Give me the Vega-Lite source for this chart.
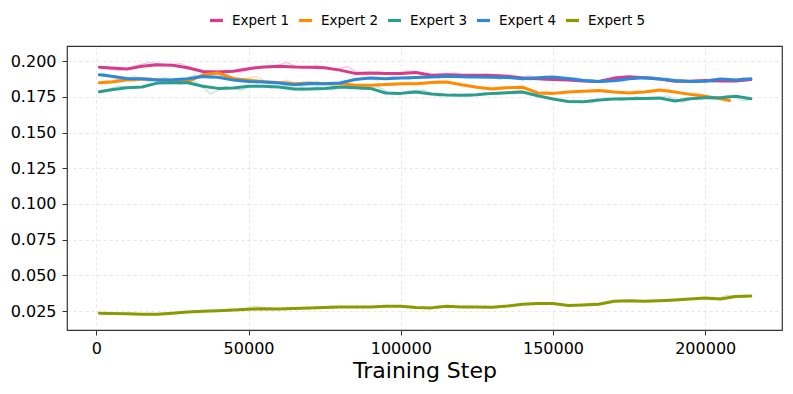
{
  "$schema": "https://vega.github.io/schema/vega-lite/v6.json",
  "autosize": "none",
  "width": 715,
  "height": 284,
  "padding": {"left": 67, "top": 46, "right": 11, "bottom": 64},
  "background": "white",
  "datasets": {
    "smooth": [
      {"step": 1000, "Expert 1": 0.1958, "Expert 2": 0.1849, "Expert 3": 0.1786, "Expert 4": 0.1905, "Expert 5": 0.0234},
      {"step": 5000, "Expert 1": 0.1952, "Expert 2": 0.1855, "Expert 3": 0.180, "Expert 4": 0.1895, "Expert 5": 0.0233},
      {"step": 10000, "Expert 1": 0.1945, "Expert 2": 0.1868, "Expert 3": 0.1815, "Expert 4": 0.188, "Expert 5": 0.0231},
      {"step": 15000, "Expert 1": 0.1965, "Expert 2": 0.1875, "Expert 3": 0.182, "Expert 4": 0.1877, "Expert 5": 0.0228},
      {"step": 20000, "Expert 1": 0.1975, "Expert 2": 0.187, "Expert 3": 0.1847, "Expert 4": 0.1868, "Expert 5": 0.0227},
      {"step": 25000, "Expert 1": 0.1972, "Expert 2": 0.1865, "Expert 3": 0.1849, "Expert 4": 0.187, "Expert 5": 0.0235},
      {"step": 30000, "Expert 1": 0.1955, "Expert 2": 0.1858, "Expert 3": 0.1849, "Expert 4": 0.1878, "Expert 5": 0.0243},
      {"step": 35000, "Expert 1": 0.1928, "Expert 2": 0.1905, "Expert 3": 0.1825, "Expert 4": 0.1893, "Expert 5": 0.0248},
      {"step": 40000, "Expert 1": 0.1925, "Expert 2": 0.1918, "Expert 3": 0.181, "Expert 4": 0.1888, "Expert 5": 0.0252},
      {"step": 45000, "Expert 1": 0.193, "Expert 2": 0.188, "Expert 3": 0.1812, "Expert 4": 0.1868, "Expert 5": 0.0257},
      {"step": 50000, "Expert 1": 0.1948, "Expert 2": 0.1867, "Expert 3": 0.1825, "Expert 4": 0.1858, "Expert 5": 0.0262},
      {"step": 55000, "Expert 1": 0.196, "Expert 2": 0.1856, "Expert 3": 0.1825, "Expert 4": 0.1855, "Expert 5": 0.0266},
      {"step": 60000, "Expert 1": 0.1965, "Expert 2": 0.1852, "Expert 3": 0.182, "Expert 4": 0.1848, "Expert 5": 0.0265},
      {"step": 65000, "Expert 1": 0.196, "Expert 2": 0.1843, "Expert 3": 0.1805, "Expert 4": 0.1835, "Expert 5": 0.0268},
      {"step": 70000, "Expert 1": 0.1958, "Expert 2": 0.1848, "Expert 3": 0.1805, "Expert 4": 0.1845, "Expert 5": 0.0272},
      {"step": 75000, "Expert 1": 0.1955, "Expert 2": 0.1842, "Expert 3": 0.181, "Expert 4": 0.1842, "Expert 5": 0.0275},
      {"step": 80000, "Expert 1": 0.1938, "Expert 2": 0.1842, "Expert 3": 0.182, "Expert 4": 0.1848, "Expert 5": 0.0279},
      {"step": 85000, "Expert 1": 0.1915, "Expert 2": 0.1832, "Expert 3": 0.1815, "Expert 4": 0.1872, "Expert 5": 0.0278},
      {"step": 90000, "Expert 1": 0.1918, "Expert 2": 0.1832, "Expert 3": 0.181, "Expert 4": 0.1882, "Expert 5": 0.0278},
      {"step": 95000, "Expert 1": 0.1915, "Expert 2": 0.1838, "Expert 3": 0.1778, "Expert 4": 0.1878, "Expert 5": 0.0283},
      {"step": 100000, "Expert 1": 0.1915, "Expert 2": 0.1843, "Expert 3": 0.1775, "Expert 4": 0.1882, "Expert 5": 0.0284},
      {"step": 105000, "Expert 1": 0.1922, "Expert 2": 0.1843, "Expert 3": 0.1785, "Expert 4": 0.1886, "Expert 5": 0.0275},
      {"step": 110000, "Expert 1": 0.1902, "Expert 2": 0.1852, "Expert 3": 0.177, "Expert 4": 0.189, "Expert 5": 0.0272},
      {"step": 115000, "Expert 1": 0.1905, "Expert 2": 0.1855, "Expert 3": 0.1763, "Expert 4": 0.1895, "Expert 5": 0.0283},
      {"step": 120000, "Expert 1": 0.1902, "Expert 2": 0.1835, "Expert 3": 0.1762, "Expert 4": 0.1892, "Expert 5": 0.0279},
      {"step": 125000, "Expert 1": 0.1902, "Expert 2": 0.1818, "Expert 3": 0.1765, "Expert 4": 0.189, "Expert 5": 0.0278},
      {"step": 130000, "Expert 1": 0.190, "Expert 2": 0.1805, "Expert 3": 0.1775, "Expert 4": 0.1888, "Expert 5": 0.0276},
      {"step": 135000, "Expert 1": 0.1895, "Expert 2": 0.1815, "Expert 3": 0.178, "Expert 4": 0.1886, "Expert 5": 0.0285},
      {"step": 140000, "Expert 1": 0.1883, "Expert 2": 0.1818, "Expert 3": 0.1785, "Expert 4": 0.1878, "Expert 5": 0.0298},
      {"step": 145000, "Expert 1": 0.1878, "Expert 2": 0.1778, "Expert 3": 0.1758, "Expert 4": 0.1885, "Expert 5": 0.0303},
      {"step": 150000, "Expert 1": 0.1872, "Expert 2": 0.1775, "Expert 3": 0.1735, "Expert 4": 0.189, "Expert 5": 0.0302},
      {"step": 155000, "Expert 1": 0.1868, "Expert 2": 0.1785, "Expert 3": 0.1718, "Expert 4": 0.188, "Expert 5": 0.0288},
      {"step": 160000, "Expert 1": 0.1862, "Expert 2": 0.179, "Expert 3": 0.1716, "Expert 4": 0.1866, "Expert 5": 0.0293},
      {"step": 165000, "Expert 1": 0.1858, "Expert 2": 0.1795, "Expert 3": 0.1728, "Expert 4": 0.1858, "Expert 5": 0.0298},
      {"step": 170000, "Expert 1": 0.1882, "Expert 2": 0.1785, "Expert 3": 0.1735, "Expert 4": 0.1863, "Expert 5": 0.0318},
      {"step": 175000, "Expert 1": 0.1892, "Expert 2": 0.1778, "Expert 3": 0.1738, "Expert 4": 0.1878, "Expert 5": 0.0322},
      {"step": 180000, "Expert 1": 0.1885, "Expert 2": 0.1785, "Expert 3": 0.174, "Expert 4": 0.1885, "Expert 5": 0.0318},
      {"step": 185000, "Expert 1": 0.1875, "Expert 2": 0.1798, "Expert 3": 0.1742, "Expert 4": 0.1875, "Expert 5": 0.0322},
      {"step": 190000, "Expert 1": 0.186, "Expert 2": 0.1785, "Expert 3": 0.1722, "Expert 4": 0.1865, "Expert 5": 0.0328},
      {"step": 195000, "Expert 1": 0.186, "Expert 2": 0.1768, "Expert 3": 0.1738, "Expert 4": 0.1858, "Expert 5": 0.0334},
      {"step": 200000, "Expert 1": 0.1865, "Expert 2": 0.1755, "Expert 3": 0.1744, "Expert 4": 0.186, "Expert 5": 0.0341},
      {"step": 205000, "Expert 1": 0.1862, "Expert 2": 0.1738, "Expert 3": 0.1744, "Expert 4": 0.1875, "Expert 5": 0.0334},
      {"step": 208000, "Expert 2": 0.1725},
      {"step": 210000, "Expert 1": 0.1862, "Expert 3": 0.1755, "Expert 4": 0.1868, "Expert 5": 0.0352},
      {"step": 215000, "Expert 1": 0.1872, "Expert 3": 0.1738, "Expert 4": 0.1877, "Expert 5": 0.0355}
    ],
    "raw": [
      {"step": 1000, "Expert 1": 0.1958, "Expert 2": 0.1849, "Expert 3": 0.1786, "Expert 4": 0.1905, "Expert 5": 0.0234},
      {"step": 2500, "Expert 1": 0.1948, "Expert 2": 0.1862, "Expert 3": 0.1795, "Expert 4": 0.1915, "Expert 5": 0.0236},
      {"step": 7500, "Expert 1": 0.1935, "Expert 2": 0.1875, "Expert 3": 0.1828, "Expert 4": 0.1872, "Expert 5": 0.0229},
      {"step": 12500, "Expert 1": 0.1968, "Expert 2": 0.1858, "Expert 3": 0.1808, "Expert 4": 0.1892, "Expert 5": 0.0233},
      {"step": 17500, "Expert 1": 0.1992, "Expert 2": 0.1888, "Expert 3": 0.1838, "Expert 4": 0.1858, "Expert 5": 0.0224},
      {"step": 22500, "Expert 1": 0.1968, "Expert 2": 0.1852, "Expert 3": 0.1862, "Expert 4": 0.1885, "Expert 5": 0.0232},
      {"step": 27500, "Expert 1": 0.1985, "Expert 2": 0.1878, "Expert 3": 0.1838, "Expert 4": 0.1862, "Expert 5": 0.0239},
      {"step": 32500, "Expert 1": 0.1942, "Expert 2": 0.1872, "Expert 3": 0.1858, "Expert 4": 0.1905, "Expert 5": 0.0246},
      {"step": 37500, "Expert 1": 0.1918, "Expert 2": 0.1932, "Expert 3": 0.1772, "Expert 4": 0.1878, "Expert 5": 0.0251},
      {"step": 42500, "Expert 1": 0.1938, "Expert 2": 0.1898, "Expert 3": 0.1822, "Expert 4": 0.1902, "Expert 5": 0.0254},
      {"step": 47500, "Expert 1": 0.1922, "Expert 2": 0.1872, "Expert 3": 0.1798, "Expert 4": 0.1855, "Expert 5": 0.0262},
      {"step": 52500, "Expert 1": 0.1962, "Expert 2": 0.1892, "Expert 3": 0.1835, "Expert 4": 0.1868, "Expert 5": 0.0283},
      {"step": 57500, "Expert 1": 0.1952, "Expert 2": 0.1842, "Expert 3": 0.1812, "Expert 4": 0.1842, "Expert 5": 0.0262},
      {"step": 62500, "Expert 1": 0.1992, "Expert 2": 0.1868, "Expert 3": 0.1832, "Expert 4": 0.1858, "Expert 5": 0.0271},
      {"step": 67500, "Expert 1": 0.1948, "Expert 2": 0.1832, "Expert 3": 0.1792, "Expert 4": 0.1822, "Expert 5": 0.0266},
      {"step": 72500, "Expert 1": 0.1972, "Expert 2": 0.1858, "Expert 3": 0.1822, "Expert 4": 0.1852, "Expert 5": 0.0276},
      {"step": 77500, "Expert 1": 0.1942, "Expert 2": 0.1828, "Expert 3": 0.1798, "Expert 4": 0.1835, "Expert 5": 0.0285},
      {"step": 82500, "Expert 1": 0.1962, "Expert 2": 0.1852, "Expert 3": 0.1832, "Expert 4": 0.1862, "Expert 5": 0.0274},
      {"step": 87500, "Expert 1": 0.1902, "Expert 2": 0.1818, "Expert 3": 0.1802, "Expert 4": 0.1885, "Expert 5": 0.0282},
      {"step": 92500, "Expert 1": 0.1928, "Expert 2": 0.1845, "Expert 3": 0.1822, "Expert 4": 0.1868, "Expert 5": 0.0276},
      {"step": 97500, "Expert 1": 0.1905, "Expert 2": 0.1828, "Expert 3": 0.1765, "Expert 4": 0.1895, "Expert 5": 0.029},
      {"step": 102500, "Expert 1": 0.1932, "Expert 2": 0.1858, "Expert 3": 0.1792, "Expert 4": 0.1872, "Expert 5": 0.0279},
      {"step": 107500, "Expert 1": 0.1912, "Expert 2": 0.1832, "Expert 3": 0.1798, "Expert 4": 0.1902, "Expert 5": 0.0268},
      {"step": 112500, "Expert 1": 0.1895, "Expert 2": 0.1868, "Expert 3": 0.1755, "Expert 4": 0.1882, "Expert 5": 0.0288},
      {"step": 117500, "Expert 1": 0.1918, "Expert 2": 0.1842, "Expert 3": 0.1772, "Expert 4": 0.1905, "Expert 5": 0.0276},
      {"step": 122500, "Expert 1": 0.1892, "Expert 2": 0.1828, "Expert 3": 0.1752, "Expert 4": 0.1882, "Expert 5": 0.0284},
      {"step": 127500, "Expert 1": 0.1912, "Expert 2": 0.1808, "Expert 3": 0.1782, "Expert 4": 0.1898, "Expert 5": 0.0272},
      {"step": 132500, "Expert 1": 0.1905, "Expert 2": 0.1822, "Expert 3": 0.1768, "Expert 4": 0.1875, "Expert 5": 0.0281},
      {"step": 137500, "Expert 1": 0.1885, "Expert 2": 0.1812, "Expert 3": 0.1795, "Expert 4": 0.1895, "Expert 5": 0.0292},
      {"step": 142500, "Expert 1": 0.1898, "Expert 2": 0.1765, "Expert 3": 0.1772, "Expert 4": 0.1868, "Expert 5": 0.0305},
      {"step": 147500, "Expert 1": 0.1865, "Expert 2": 0.1792, "Expert 3": 0.1748, "Expert 4": 0.1898, "Expert 5": 0.0298},
      {"step": 152500, "Expert 1": 0.1882, "Expert 2": 0.1768, "Expert 3": 0.1722, "Expert 4": 0.1872, "Expert 5": 0.0295},
      {"step": 157500, "Expert 1": 0.1858, "Expert 2": 0.1798, "Expert 3": 0.1728, "Expert 4": 0.1885, "Expert 5": 0.0289},
      {"step": 162500, "Expert 1": 0.1872, "Expert 2": 0.1782, "Expert 3": 0.1708, "Expert 4": 0.1858, "Expert 5": 0.0305},
      {"step": 167500, "Expert 1": 0.1848, "Expert 2": 0.1802, "Expert 3": 0.1742, "Expert 4": 0.1872, "Expert 5": 0.0302},
      {"step": 172500, "Expert 1": 0.1895, "Expert 2": 0.1772, "Expert 3": 0.1725, "Expert 4": 0.1855, "Expert 5": 0.0325},
      {"step": 177500, "Expert 1": 0.1882, "Expert 2": 0.1792, "Expert 3": 0.1752, "Expert 4": 0.1892, "Expert 5": 0.0315},
      {"step": 182500, "Expert 1": 0.1895, "Expert 2": 0.1778, "Expert 3": 0.1732, "Expert 4": 0.1878, "Expert 5": 0.0326},
      {"step": 187500, "Expert 1": 0.1865, "Expert 2": 0.1805, "Expert 3": 0.1758, "Expert 4": 0.1882, "Expert 5": 0.0318},
      {"step": 192500, "Expert 1": 0.1872, "Expert 2": 0.1772, "Expert 3": 0.1712, "Expert 4": 0.1855, "Expert 5": 0.0335},
      {"step": 197500, "Expert 1": 0.1852, "Expert 2": 0.1778, "Expert 3": 0.1748, "Expert 4": 0.1872, "Expert 5": 0.0338},
      {"step": 202500, "Expert 1": 0.1878, "Expert 2": 0.1742, "Expert 3": 0.1735, "Expert 4": 0.1852, "Expert 5": 0.0328},
      {"step": 207500, "Expert 1": 0.1855, "Expert 2": 0.1728, "Expert 3": 0.1762, "Expert 4": 0.1882, "Expert 5": 0.0362},
      {"step": 212500, "Expert 1": 0.1885, "Expert 3": 0.1722, "Expert 4": 0.1858, "Expert 5": 0.0348},
      {"step": 215000, "Expert 1": 0.1872, "Expert 3": 0.1738, "Expert 4": 0.1877, "Expert 5": 0.0355}
    ]
  },
  "encoding": {
    "x": {
      "field": "step", "type": "quantitative",
      "scale": {"domain": [-9640, 225230], "nice": false, "zero": false},
      "axis": {"values": [0, 50000, 100000, 150000, 200000], "format": "d", "title": "Training Step", "labelPadding": 5, "titlePadding": 4}
    },
    "y": {
      "field": "value", "type": "quantitative",
      "scale": {"domain": [0.0117, 0.2107], "nice": false, "zero": false},
      "axis": {"values": [0.025, 0.05, 0.075, 0.1, 0.125, 0.15, 0.175, 0.2], "format": ".3f", "title": null, "labelPadding": 6}
    },
    "color": {
      "field": "expert", "type": "nominal",
      "scale": {"domain": ["Expert 1", "Expert 2", "Expert 3", "Expert 4", "Expert 5"], "range": ["#d93a8a", "#ff8c00", "#2a9d8f", "#2b8ad8", "#8a9a00"]},
      "legend": {"orient": "none", "direction": "horizontal", "legendX": 141, "legendY": -34, "title": null, "symbolOpacity": 1, "symbolStrokeWidth": 3.2}
    }
  },
  "layer": [
    {
      "data": {"name": "raw"},
      "transform": [
        {"fold": ["Expert 1", "Expert 2", "Expert 3", "Expert 4", "Expert 5"], "as": ["expert", "value"]},
        {"filter": "isValid(datum.value)"}
      ],
      "mark": {"type": "line", "strokeWidth": 1.2, "opacity": 0.3}
    },
    {
      "data": {"name": "smooth"},
      "transform": [
        {"fold": ["Expert 1", "Expert 2", "Expert 3", "Expert 4", "Expert 5"], "as": ["expert", "value"]},
        {"filter": "isValid(datum.value)"}
      ],
      "mark": {"type": "line", "strokeWidth": 3, "strokeJoin": "round", "strokeCap": "round"}
    }
  ],
  "config": {
    "font": "DejaVu Sans",
    "view": {"stroke": "#333333", "strokeWidth": 1.2},
    "axis": {
      "labelFont": "DejaVu Sans", "labelFontSize": 16, "labelColor": "#000000",
      "titleFont": "DejaVu Sans", "titleFontSize": 22, "titleFontWeight": "normal", "titleColor": "#000000",
      "tickColor": "#333333", "tickSize": 5,
      "domain": false,
      "gridColor": "#cccccc", "gridDash": [3, 3], "gridOpacity": 0.6, "gridWidth": 0.8
    },
    "legend": {
      "labelFont": "DejaVu Sans", "labelFontSize": 13.5, "labelColor": "#000000",
      "symbolType": "stroke", "symbolStrokeWidth": 3, "symbolSize": 170,
      "labelOffset": 7, "columnPadding": 2
    }
  }
}
